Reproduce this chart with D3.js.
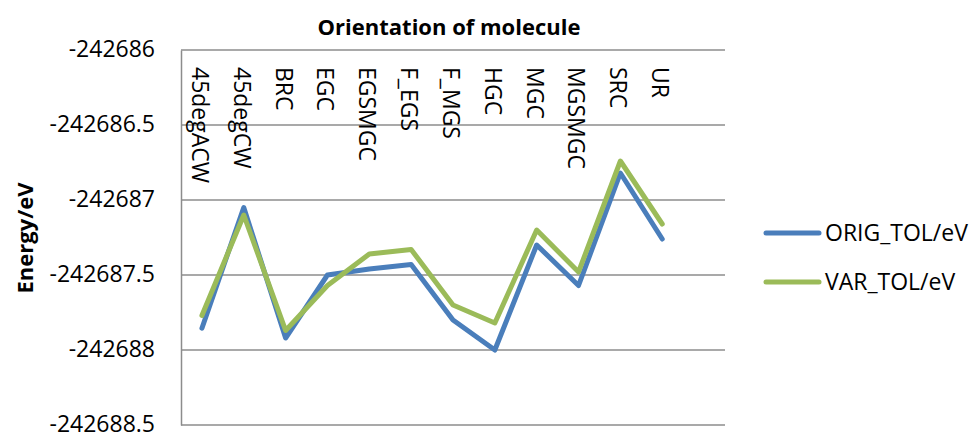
<!DOCTYPE html>
<html>
<head>
<meta charset="utf-8">
<script src="https://d3js.org/d3.v7.min.js"></script>
<style>
  body { margin: 0; background: #fff; }
  text { font-family: "Open Sans", sans-serif; fill: #000; }
</style>
</head>
<body>
<div id="chart"></div>
<script>
  const categories = ["45degACW", "45degCW", "BRC", "EGC", "EGSMGC", "F_EGS", "F_MGS", "HGC", "MGC", "MGSMGC", "SRC", "UR"];
  const origTol = [-242687.855, -242687.05, -242687.92, -242687.50, -242687.46, -242687.43, -242687.80, -242688.00, -242687.30, -242687.57, -242686.82, -242687.26];
  const varTol  = [-242687.77, -242687.10, -242687.87, -242687.57, -242687.36, -242687.33, -242687.70, -242687.82, -242687.20, -242687.48, -242686.74, -242687.16];
  const yTicks = [-242686, -242686.5, -242687, -242687.5, -242688, -242688.5];
  const seriesNames = ["ORIG_TOL/eV", "VAR_TOL/eV"];
  const colors = ["#4a7ebb", "#9bbb59"];

  const W = 977, H = 435;
  const margin = {top: 50, right: 252, bottom: 10, left: 181};
  const width = W - margin.left - margin.right,
        height = H - margin.top - margin.bottom;

  const svg = d3.select("#chart").append("svg")
      .attr("width", W).attr("height", H);

  const g = svg.append("g")
      .attr("transform", `translate(${margin.left},${margin.top})`);

  // Excel leaves one empty slot at the end of the category axis
  const x = d3.scaleBand()
      .domain(categories.concat([""]))
      .range([0, width]);

  const y = d3.scaleLinear()
      .domain([-242688.5, -242686])
      .range([height, 0]);

  // gridlines
  g.selectAll("line.grid")
    .data(yTicks)
    .join("line")
      .attr("class", "grid")
      .attr("x1", 0).attr("x2", width)
      .attr("y1", d => y(d)).attr("y2", d => y(d))
      .attr("stroke", "#8c8c8c")
      .attr("stroke-width", 1.5);

  // y axis
  const yAxis = g.append("g")
      .call(d3.axisLeft(y).tickValues(yTicks).tickSize(0).tickPadding(26)
        .tickFormat(d => String(+d.toFixed(1))));
  yAxis.select(".domain").attr("stroke", "#8c8c8c").attr("stroke-width", 1.5);
  yAxis.selectAll("text")
      .attr("dy", "0.3em")
      .style("font-size", "23px")
      .style("font-family", "'Open Sans', sans-serif");

  // category labels inside the plot, rotated
  g.selectAll("text.cat")
    .data(categories)
    .join("text")
      .attr("class", "cat")
      .attr("transform", d => `translate(${x(d) + x.bandwidth() / 2 - 2},17) rotate(90)`)
      .attr("dy", "0.35em")
      .style("font-size", "23px")
      .text(d => d);

  // lines
  const line = d3.line()
      .x((d, i) => x(categories[i]) + x.bandwidth() / 2)
      .y(d => y(d));

  [origTol, varTol].forEach((s, k) => {
    g.append("path")
      .datum(s)
      .attr("fill", "none")
      .attr("stroke", colors[k])
      .attr("stroke-width", 5)
      .attr("stroke-linejoin", "round")
      .attr("stroke-linecap", "round")
      .attr("d", line);
  });

  // title
  svg.append("text")
      .attr("x", 449).attr("y", 35)
      .attr("text-anchor", "middle")
      .style("font-size", "22px")
      .style("font-weight", "bold")
      .text("Orientation of molecule");

  // y axis title
  svg.append("text")
      .attr("transform", "translate(33,238) rotate(-90)")
      .attr("text-anchor", "middle")
      .style("font-size", "22px")
      .style("font-weight", "bold")
      .text("Energy/eV");

  // legend
  const legend = svg.append("g")
    .selectAll("g")
    .data(seriesNames)
    .join("g")
      .attr("transform", (d, i) => `translate(766,${233 + i * 49})`);
  legend.append("line")
      .attr("x1", 0).attr("x2", 53)
      .attr("stroke", (d, i) => colors[i])
      .attr("stroke-width", 5)
      .attr("stroke-linecap", "round");
  legend.append("text")
      .attr("x", 59).attr("dy", "0.35em")
      .style("font-size", "23px")
      .text(d => d);
</script>
</body>
</html>
